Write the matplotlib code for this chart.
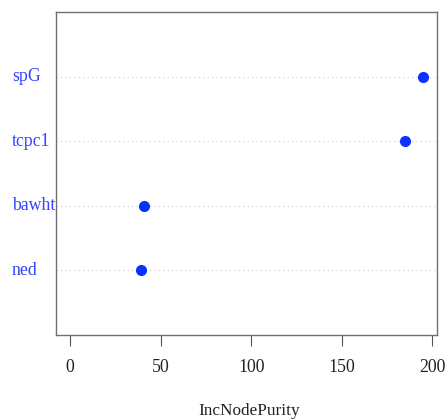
import matplotlib
matplotlib.use("Agg")
import matplotlib.pyplot as plt

# variable importance values
labels = ["ned", "bawht", "tcpc1", "spG"]
purity = [39.1, 40.9, 184.6, 194.7]
ticks = [0, 50, 100, 150, 200]

plt.rcParams["font.family"] = ["Liberation Serif", "DejaVu Serif"]

fig = plt.figure(figsize=(4.46, 4.2), dpi=100)
ax = fig.add_axes([56 / 446, 85 / 420, 381 / 446, 323 / 420])

ypos = list(range(1, len(labels) + 1))

for y in ypos:
    ax.axhline(y, color="#c8c8c8", linestyle=(0, (1, 3)), linewidth=0.8, zorder=1)

ax.plot(purity, ypos, "o", color="#0a32ff", markersize=7, zorder=3)

ax.set_xlim(-7.8, 202.5)
ax.set_ylim(0, len(labels) + 1)

ax.set_yticks([])
ax.set_xticks(ticks)
ax.set_xticklabels([str(t) for t in ticks], fontsize=12.8)
ax.tick_params(axis="x", length=8, width=0.8, pad=9, colors="#555555", labelcolor="#222222")

for s in ax.spines.values():
    s.set_color("#707070")
    s.set_linewidth(1.0)

# labels on the left, left aligned like R dotchart
for lab, y in zip(labels, ypos):
    yfig = ax.transData.transform((0, y))[1]
    fig.text(12 / 446, yfig / fig.dpi / 4.2, lab, color="#3344ff",
             fontsize=12.8, ha="left", va="center")

fig.text(0.5 + 26 / 446, 9 / 420, "IncNodePurity", fontsize=12.4,
         ha="center", va="center", color="#222222")

fig.savefig("out.png", dpi=100)
